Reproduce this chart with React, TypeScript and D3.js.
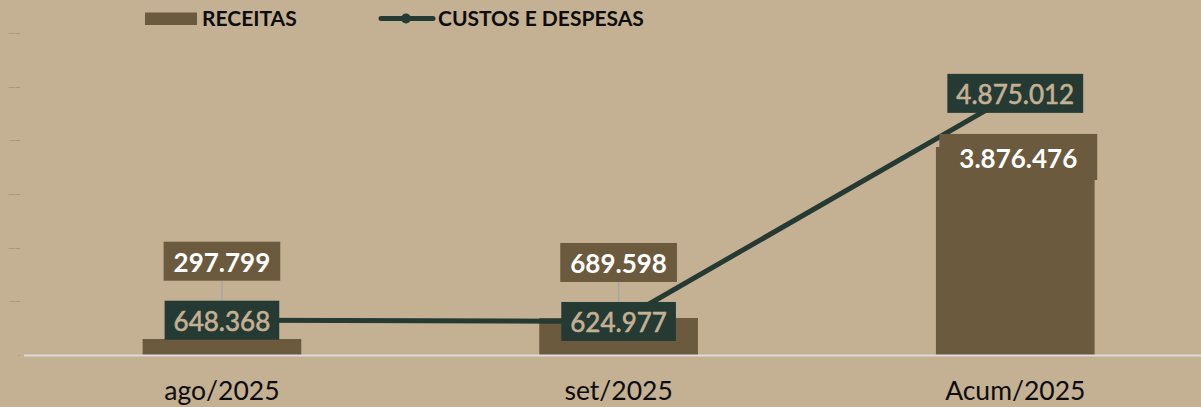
import React, { useEffect, useRef } from "react";
import * as d3 from "d3";

const categories = ["ago/2025", "set/2025", "Acum/2025"];
const receitas = [297799, 689598, 3876476];
const custos = [648368, 624977, 4875012];
const yTicks = [0, 1000000, 2000000, 3000000, 4000000, 5000000, 6000000];
const seriesNames = ["RECEITAS", "CUSTOS E DESPESAS"];

const W = 1201;
const H = 407;
const BG = "#c4b194";
const BROWN = "#6b5a3e";
const GREEN = "#253a33";
const LIGHT = "#c4b093";
const FONT = "Lato, 'Open Sans', sans-serif";

const fmt = (v: number) => d3.format(",")(v).replace(/,/g, ".");

export default function App() {
  const ref = useRef<SVGSVGElement | null>(null);

  useEffect(() => {
    document.body.style.margin = "0";
    const svg = d3.select(ref.current);
    svg.selectAll("*").remove();

    const x = d3
      .scaleBand<string>()
      .domain(categories)
      .range([23.6, 1213.6])
      .paddingInner(0.6)
      .paddingOuter(0.3);
    const y = d3.scaleLinear().domain([0, 6000000]).range([355, 33]);
    const cx = (c: string) => (x(c) as number) + x.bandwidth() / 2;

    svg.append("rect").attr("width", W).attr("height", H).attr("fill", BG);

    // y tick labels (tiny)
    svg
      .append("g")
      .selectAll("text")
      .data(yTicks)
      .join("text")
      .attr("x", 20)
      .attr("y", (d) => y(d) + 1)
      .attr("text-anchor", "end")
      .attr("font-family", FONT)
      .attr("font-size", 2.6)
      .attr("fill", "#8a7c66")
      .text((d) => fmt(d));

    // bars
    svg
      .append("g")
      .selectAll("rect")
      .data(receitas)
      .join("rect")
      .attr("x", (_, i) => x(categories[i]) as number)
      .attr("y", (d) => y(d))
      .attr("width", x.bandwidth())
      .attr("height", (d) => y(0) - y(d))
      .attr("fill", BROWN);

    // baseline
    svg
      .append("line")
      .attr("x1", 24)
      .attr("x2", W)
      .attr("y1", y(0) + 0.5)
      .attr("y2", y(0) + 0.5)
      .attr("stroke", "#dcdcdc")
      .attr("stroke-width", 2);

    // line
    const line = d3
      .line<number>()
      .x((_, i) => cx(categories[i]))
      .y((d) => y(d));
    svg
      .append("path")
      .datum(custos)
      .attr("d", line)
      .attr("fill", "none")
      .attr("stroke", GREEN)
      .attr("stroke-width", 5)
      .attr("stroke-linejoin", "round");

    // label helper
    const drawLabel = (
      g: d3.Selection<SVGGElement, unknown, null, undefined>,
      text: string,
      x0: number,
      y0: number,
      fill: string,
      color: string,
      weight: string,
      strokeW: number,
      padX: number,
      h: number
    ) => {
      const grp = g.append("g");
      const rect = grp.append("rect").attr("fill", fill);
      const t = grp
        .append("text")
        .attr("x", x0)
        .attr("y", y0 + 1)
        .attr("text-anchor", "middle")
        .attr("dominant-baseline", "central")
        .attr("font-family", FONT)
        .attr("font-size", 26)
        .attr("font-weight", weight)
        .attr("fill", color)
        .attr("stroke", color)
        .attr("stroke-width", strokeW)
        .text(text);
      const bb = (t.node() as SVGTextElement).getBBox();
      const w = bb.width + padX * 2;
      rect
        .attr("x", x0 - w / 2)
        .attr("y", y0 - h / 2)
        .attr("width", w)
        .attr("height", h);
      return { top: y0 - h / 2, bottom: y0 + h / 2 };
    };

    const labels = svg.append("g");
    const leaders = labels.append("g");
    categories.forEach((c, i) => {
      const px = cx(c);
      const ly = y(custos[i]);
      let barBox;
      if (i < 2) {
        barBox = drawLabel(labels, fmt(receitas[i]), px, ly - 59, BROWN, "#ffffff", "bold", 0, 10, 39);
      } else {
        barBox = drawLabel(labels, fmt(receitas[i]), px + 3, y(receitas[i]) + 10, BROWN, "#ffffff", "bold", 0, 20, 46);
      }
      const lineBox = drawLabel(labels, fmt(custos[i]), px, ly, GREEN, LIGHT, "normal", 0.6, 9, 39);
      if (i < 2) {
        leaders
          .append("line")
          .attr("x1", px)
          .attr("x2", px)
          .attr("y1", barBox.bottom)
          .attr("y2", lineBox.top)
          .attr("stroke", "#a6a6a6")
          .attr("stroke-width", 1.5);
      }
    });

    // category labels
    svg
      .append("g")
      .selectAll("text")
      .data(categories)
      .join("text")
      .attr("x", (d) => cx(d))
      .attr("y", 400)
      .attr("text-anchor", "middle")
      .attr("font-family", FONT)
      .attr("font-size", 26.5)
      .attr("fill", "#0d0d0d")
      .text((d) => d);

    // legend
    const lg = svg.append("g");
    lg.append("rect").attr("x", 145).attr("y", 12.5).attr("width", 52).attr("height", 12.5).attr("fill", BROWN);
    lg.append("text")
      .attr("x", 202)
      .attr("y", 26)
      .attr("font-family", FONT)
      .attr("font-size", 21)
      .attr("font-weight", "bold")
      .attr("fill", "#0d0d0d")
      .text(seriesNames[0]);
    lg.append("line")
      .attr("x1", 381)
      .attr("x2", 433)
      .attr("y1", 18.5)
      .attr("y2", 18.5)
      .attr("stroke", GREEN)
      .attr("stroke-width", 5)
      .attr("stroke-linecap", "round");
    lg.append("circle").attr("cx", 406).attr("cy", 18.5).attr("r", 5).attr("fill", GREEN);
    lg.append("text")
      .attr("x", 438)
      .attr("y", 26)
      .attr("font-family", FONT)
      .attr("font-size", 21)
      .attr("font-weight", "bold")
      .attr("fill", "#0d0d0d")
      .text(seriesNames[1]);
  }, []);

  return (
    <div style={{ position: "fixed", left: 0, top: 0 }}>
      <svg ref={ref} width={W} height={H} style={{ display: "block" }} />
    </div>
  );
}
